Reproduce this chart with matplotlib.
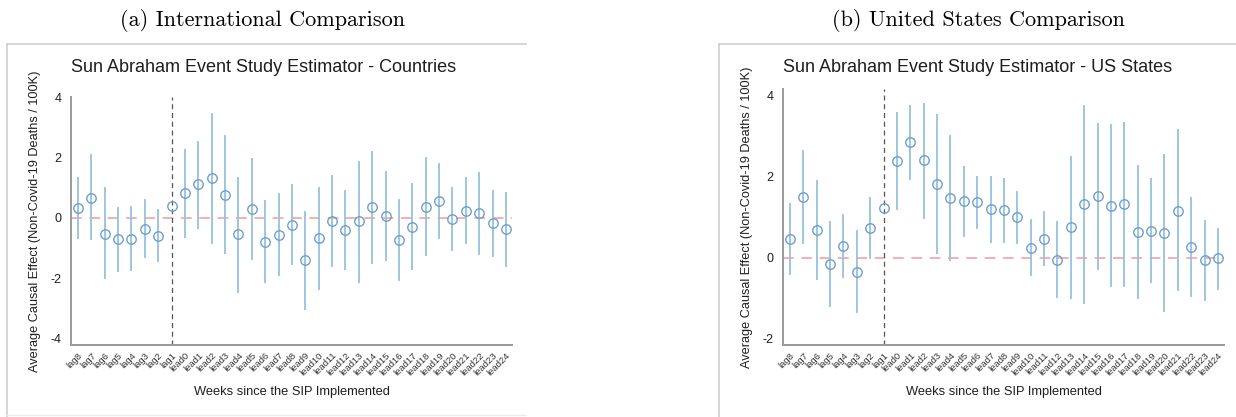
import matplotlib.pyplot as plt
from matplotlib.lines import Line2D

# event-time labels (lags before SIP, leads after)
labels = ['lag8', 'lag7', 'lag6', 'lag5', 'lag4', 'lag3', 'lag2', 'lag1',
          'lead0', 'lead1', 'lead2', 'lead3', 'lead4', 'lead5', 'lead6', 'lead7',
          'lead8', 'lead9', 'lead10', 'lead11', 'lead12', 'lead13', 'lead14',
          'lead15', 'lead16', 'lead17', 'lead18', 'lead19', 'lead20', 'lead21',
          'lead22', 'lead23', 'lead24']

# (a) countries: point estimates and CI bounds
est_countries = [0.34, 0.67, -0.53, -0.70, -0.70, -0.37, -0.60, 0.40,
                 0.82, 1.11, 1.31, 0.76, -0.54, 0.29, -0.79, -0.56, -0.23, -1.41,
                 -0.67, -0.09, -0.40, -0.12, 0.37, 0.07, -0.73, -0.29, 0.37, 0.56,
                 -0.03, 0.24, 0.16, -0.18, -0.37]
hi_countries = [1.32, 2.08, 0.98, 0.32, 0.37, 0.60, 0.26, 0.40,
                2.25, 2.52, 3.44, 2.71, 1.33, 1.94, 0.56, 0.78, 1.09, 0.19,
                0.98, 1.37, 0.89, 1.84, 2.19, 1.51, 0.60, 1.11, 1.97, 1.79,
                1.00, 1.31, 1.48, 0.89, 0.82]
lo_countries = [-0.67, -0.70, -1.99, -1.75, -1.73, -1.30, -1.44, 0.40,
                -0.62, -0.34, -0.84, -1.17, -2.44, -1.37, -2.14, -1.89, -1.52, -3.02,
                -2.36, -1.59, -1.70, -2.11, -1.48, -1.39, -2.05, -1.70, -1.22, -0.67,
                -1.06, -0.82, -1.19, -1.25, -1.61]

# (b) US states
est_states = [0.46, 1.50, 0.67, -0.16, 0.28, -0.35, 0.73, 1.23,
              2.38, 2.85, 2.40, 1.82, 1.47, 1.39, 1.37, 1.20, 1.18, 0.99,
              0.24, 0.46, -0.05, 0.75, 1.31, 1.51, 1.28, 1.31, 0.63, 0.65,
              0.61, 1.16, 0.25, -0.07, -0.01]
hi_states = [1.31, 2.62, 1.88, 0.88, 1.04, 0.65, 1.47, 1.23,
             3.56, 3.75, 3.78, 3.53, 3.01, 2.24, 1.99, 1.99, 1.94, 1.61,
             0.92, 1.12, 0.87, 2.49, 3.74, 3.30, 3.26, 3.31, 2.27, 1.93,
             2.54, 3.14, 1.46, 0.90, 0.71]
lo_states = [-0.40, 0.36, -0.54, -1.20, -0.48, -1.35, -0.01, 1.23,
             1.20, 1.93, 0.97, 0.12, -0.06, 0.52, 0.72, 0.39, 0.39, 0.35,
             -0.44, -0.19, -0.97, -1.01, -1.12, -0.28, -0.71, -0.71, -1.01, -0.61,
             -1.33, -0.81, -0.94, -1.04, -0.77]

plt.rcParams['axes.unicode_minus'] = False
plt.rcParams['font.family'] = ['Liberation Sans', 'DejaVu Sans']

BAR = '#9fc5e0'
DOT = '#6e9fcc'
AXC = '#9a9a9a'
FRAME = '#cfcfcf'
TXT = '#1e1e1e'
W, H = 1236, 417


def event_plot(ax, est, lo, hi, title, yticks, ylim, height_px):
    x = list(range(len(labels)))
    for i in x:
        if hi[i] != lo[i]:
            ax.plot([i, i], [lo[i], hi[i]], color=BAR, lw=1.4, zorder=2)
    ax.plot(x, est, 'o', ms=6.8, mfc='none', mec=DOT, mew=1.0, zorder=3)
    ax.axhline(0, color='#f29a9a', lw=1.1, ls=(0, (7, 5)), zorder=1)
    ax.axvline(labels.index('lag1'), color='#555555', lw=0.9, ls=(0, (4, 3)), zorder=1)

    ax.set_xlim(-0.52, 32.45)
    ax.set_ylim(*ylim)
    ax.set_yticks(yticks)
    ax.set_xticks(x)
    ax.set_xticklabels(labels, rotation=45, ha='right', va='top',
                       rotation_mode='anchor', fontsize=6.8, color='#333333')
    ax.tick_params(axis='both', length=0)
    ax.tick_params(axis='x', pad=4)
    ax.tick_params(axis='y', labelsize=9, colors=TXT, pad=7)
    for s in ['top', 'right']:
        ax.spines[s].set_visible(False)
    for s in ['left', 'bottom']:
        ax.spines[s].set_color(AXC)
        ax.spines[s].set_linewidth(1.4)

    ax.set_xlabel('Weeks since the SIP Implemented', fontsize=9.3, color=TXT, va='top')
    ax.xaxis.set_label_coords(0.5, -41 / height_px)
    ax.set_ylabel('Average Causal Effect (Non-Covid-19 Deaths / 100K)', fontsize=9.2, color=TXT)
    ax.yaxis.set_label_coords(-30 / 441, 0.5)

    # chart title sits at a fixed height above the plot
    bb = ax.get_position()
    fig.text(bb.x0, 1 - 67 / H, title, fontsize=13, color=TXT, ha='left', va='center')


fig = plt.figure(figsize=(12.36, 4.17), dpi=100)

ax1 = fig.add_axes([71 / W, 72 / H, 441 / W, 248 / H])
event_plot(ax1, est_countries, lo_countries, hi_countries,
           'Sun Abraham Event Study Estimator - Countries', [-4, -2, 0, 2, 4], (-4.21, 3.98), 248)

ax2 = fig.add_axes([783 / W, 72 / H, 441 / W, 256 / H])
event_plot(ax2, est_states, lo_states, hi_states,
           'Sun Abraham Event Study Estimator - US States', [-2, 0, 2, 4], (-2.16, 4.16), 256)

# light frames around each panel (like pasted screenshots)
for (x0, x1) in [(7, 526), (719, 1236)]:
    fig.add_artist(Line2D([x0 / W, x1 / W], [1 - 44 / H, 1 - 44 / H], color=FRAME, lw=1.2))
    fig.add_artist(Line2D([x0 / W, x0 / W], [0, 1 - 44 / H], color=FRAME, lw=1.2))
fig.add_artist(Line2D([7 / W, 526 / W], [2 / H, 2 / H], color='#ececec', lw=1.0))

# sub-captions
fig.text(263 / W, 1 - 21 / H, '(a) International Comparison', ha='center', va='center',
         fontsize=16, family='cmr10')
fig.text(978 / W, 1 - 21 / H, '(b) United States Comparison', ha='center', va='center',
         fontsize=16, family='cmr10')

fig.savefig('out.png', dpi=100)
